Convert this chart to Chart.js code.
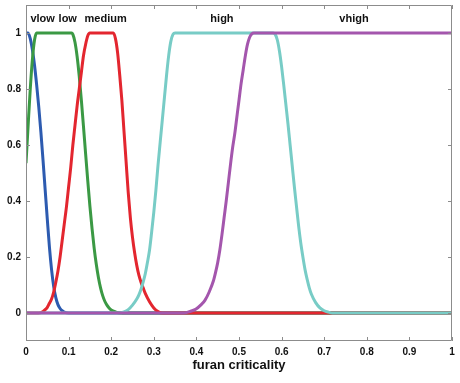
<!DOCTYPE html>
<html>
<head>
<meta charset="utf-8">
<script src="https://cdn.jsdelivr.net/npm/chart.js@4.4.1/dist/chart.umd.min.js"></script>
<style>
html,body{margin:0;padding:0;background:#fff;}
canvas{display:block;}
</style>
</head>
<body>
<canvas id="c" width="460" height="383"></canvas>
<script>
// ---- data ----
const xTicks = [0, 0.1, 0.2, 0.3, 0.4, 0.5, 0.6, 0.7, 0.8, 0.9, 1];
const xTickLabels = ["0", "0.1", "0.2", "0.3", "0.4", "0.5", "0.6", "0.7", "0.8", "0.9", "1"];
const yTicks = [0, 0.2, 0.4, 0.6, 0.8, 1];
const yTickLabels = ["0", "0.2", "0.4", "0.6", "0.8", "1"];
const xTitle = "furan criticality";
const seriesNames = ["vlow", "low", "medium", "high", "vhigh"];
const labelX = [0.039, 0.098, 0.187, 0.46, 0.77];
const labelY = 1.05;

const vlowX = [0, 0.005, 0.01, 0.015, 0.02, 0.025, 0.03, 0.035, 0.04, 0.045, 0.05, 0.055, 0.06, 0.065, 0.07, 0.075, 0.08, 0.085, 0.09, 0.1, 1];
const vlowY = [1, 1, 0.98, 0.94, 0.885, 0.815, 0.735, 0.645, 0.545, 0.44, 0.335, 0.235, 0.155, 0.095, 0.055, 0.03, 0.016, 0.008, 0.003, 0, 0];

const lowX = [0, 0.005, 0.01, 0.015, 0.02, 0.025, 0.107, 0.11, 0.115, 0.12, 0.125, 0.13, 0.135, 0.14, 0.145, 0.15, 0.155, 0.16, 0.165, 0.17, 0.175, 0.18, 0.185, 0.19, 0.195, 0.2, 0.21, 0.22, 1];
const lowY = [0.535, 0.67, 0.8, 0.905, 0.975, 1, 1, 0.995, 0.967, 0.916, 0.845, 0.759, 0.665, 0.567, 0.472, 0.382, 0.302, 0.232, 0.174, 0.127, 0.09, 0.062, 0.042, 0.028, 0.018, 0.011, 0.004, 0, 0];

const mediumX = [0, 0.03, 0.04, 0.045, 0.05, 0.055, 0.06, 0.065, 0.07, 0.075, 0.08, 0.085, 0.09, 0.095, 0.1, 0.105, 0.11, 0.115, 0.12, 0.125, 0.13, 0.135, 0.14, 0.145, 0.15, 0.205, 0.21, 0.215, 0.22, 0.225, 0.23, 0.235, 0.24, 0.245, 0.25, 0.255, 0.26, 0.265, 0.27, 0.275, 0.28, 0.29, 0.3, 0.31, 0.32, 1];
const mediumY = [0, 0, 0.005, 0.012, 0.02, 0.035, 0.05, 0.075, 0.11, 0.15, 0.2, 0.26, 0.32, 0.38, 0.45, 0.52, 0.6, 0.67, 0.74, 0.8, 0.86, 0.92, 0.96, 0.99, 1, 1, 0.98, 0.93, 0.85, 0.76, 0.65, 0.54, 0.43, 0.34, 0.27, 0.215, 0.17, 0.135, 0.11, 0.09, 0.07, 0.04, 0.018, 0.005, 0, 0];

const highX = [0, 0.22, 0.23, 0.24, 0.25, 0.26, 0.265, 0.27, 0.275, 0.28, 0.285, 0.29, 0.295, 0.3, 0.305, 0.31, 0.315, 0.32, 0.325, 0.33, 0.335, 0.34, 0.345, 0.35, 0.58, 0.585, 0.59, 0.595, 0.6, 0.605, 0.61, 0.615, 0.62, 0.625, 0.63, 0.635, 0.64, 0.645, 0.65, 0.655, 0.66, 0.665, 0.67, 0.68, 0.69, 0.7, 0.71, 0.72, 1];
const highY = [0, 0, 0.004, 0.012, 0.028, 0.05, 0.065, 0.085, 0.11, 0.14, 0.18, 0.225, 0.29, 0.36, 0.44, 0.53, 0.61, 0.69, 0.77, 0.85, 0.92, 0.97, 0.995, 1, 1, 0.995, 0.975, 0.935, 0.88, 0.815, 0.745, 0.675, 0.6, 0.525, 0.45, 0.38, 0.31, 0.25, 0.2, 0.155, 0.12, 0.09, 0.067, 0.037, 0.018, 0.008, 0.003, 0, 0];

const vhighX = [0, 0.37, 0.38, 0.39, 0.4, 0.41, 0.42, 0.43, 0.44, 0.445, 0.45, 0.455, 0.46, 0.465, 0.47, 0.475, 0.48, 0.485, 0.49, 0.495, 0.5, 0.505, 0.51, 0.515, 0.52, 0.525, 0.53, 0.535, 1];
const vhighY = [0, 0, 0.003, 0.008, 0.015, 0.028, 0.045, 0.075, 0.115, 0.145, 0.18, 0.225, 0.28, 0.34, 0.4, 0.465, 0.53, 0.59, 0.64, 0.7, 0.76, 0.82, 0.87, 0.92, 0.96, 0.985, 0.997, 1, 1];

const seriesX = [vlowX, lowX, mediumX, highX, vhighX];
const seriesY = [vlowY, lowY, mediumY, highY, vhighY];
const colors = ["#2d5bb0", "#3b9944", "#e3262f", "#78ccc6", "#a456ad"];

// ---- chart ----
const FONT = "'Liberation Sans', Arial, Helvetica, sans-serif";

const framePlugin = {
  id: 'frame',
  afterDraw(chart) {
    const {ctx, chartArea: a, scales: {x, y}} = chart;
    ctx.save();
    ctx.strokeStyle = '#8c8c8c';
    ctx.lineWidth = 1;
    ctx.beginPath();
    ctx.rect(a.left + 0.5, a.top + 0.5, a.right - a.left - 1, a.bottom - a.top - 1);
    ctx.stroke();
    const tl = 4;
    ctx.beginPath();
    xTicks.forEach(v => {
      const px = Math.round(x.getPixelForValue(v)) + 0.5;
      ctx.moveTo(px, a.bottom); ctx.lineTo(px, a.bottom - tl);
      ctx.moveTo(px, a.top); ctx.lineTo(px, a.top + tl);
    });
    yTicks.forEach(v => {
      const py = Math.round(y.getPixelForValue(v)) + 0.5;
      ctx.moveTo(a.left, py); ctx.lineTo(a.left + tl, py);
      ctx.moveTo(a.right, py); ctx.lineTo(a.right - tl, py);
    });
    ctx.stroke();
    // series name labels
    ctx.fillStyle = '#111';
    ctx.font = "bold 11px " + FONT;
    ctx.textAlign = 'center';
    ctx.textBaseline = 'middle';
    seriesNames.forEach((n, i) => {
      ctx.fillText(n, x.getPixelForValue(labelX[i]), y.getPixelForValue(labelY));
    });
    ctx.restore();
  }
};

const datasets = seriesNames.map((n, i) => ({
  label: n,
  data: seriesX[i].map((xv, j) => ({x: xv, y: seriesY[i][j]})),
  borderColor: colors[i],
  backgroundColor: colors[i],
  borderWidth: 3,
  pointRadius: 0,
  fill: false,
  cubicInterpolationMode: 'monotone',
  order: seriesNames.length - i
}));

new Chart(document.getElementById('c'), {
  type: 'line',
  data: {datasets},
  options: {
    responsive: false,
    animation: false,
    devicePixelRatio: 1,
    layout: {padding: {left: 0, top: 5, right: 8, bottom: 0}},
    plugins: {legend: {display: false}, tooltip: {enabled: false}},
    scales: {
      x: {
        type: 'linear',
        min: 0, max: 1,
        grid: {display: false, drawTicks: false},
        border: {display: false},
        afterBuildTicks: s => { s.ticks = xTicks.map(v => ({value: v})); },
        afterFit: s => { s.height = 42; s.paddingLeft = 0; s.paddingRight = 0; },
        ticks: {
          color: '#111',
          font: {family: FONT, size: 10, weight: 'bold'},
          padding: 5,
          maxRotation: 0,
          autoSkip: false,
          callback: (v) => { const k = xTicks.indexOf(v); return k >= 0 ? xTickLabels[k] : ''; }
        },
        title: {
          display: true,
          text: xTitle,
          color: '#111',
          font: {family: FONT, size: 13, weight: 'bold'},
          padding: {top: 0, bottom: 10}
        }
      },
      y: {
        type: 'linear',
        min: -0.1, max: 1.1,
        grid: {display: false, drawTicks: false},
        border: {display: false},
        afterBuildTicks: s => { s.ticks = yTicks.map(v => ({value: v})); },
        afterFit: s => { s.width = 26; s.paddingTop = 0; s.paddingBottom = 0; },
        ticks: {
          color: '#111',
          font: {family: FONT, size: 10, weight: 'bold'},
          padding: 5,
          autoSkip: false,
          callback: (v) => { const k = yTicks.indexOf(v); return k >= 0 ? yTickLabels[k] : ''; }
        }
      }
    }
  },
  plugins: [framePlugin]
});
</script>
</body>
</html>
